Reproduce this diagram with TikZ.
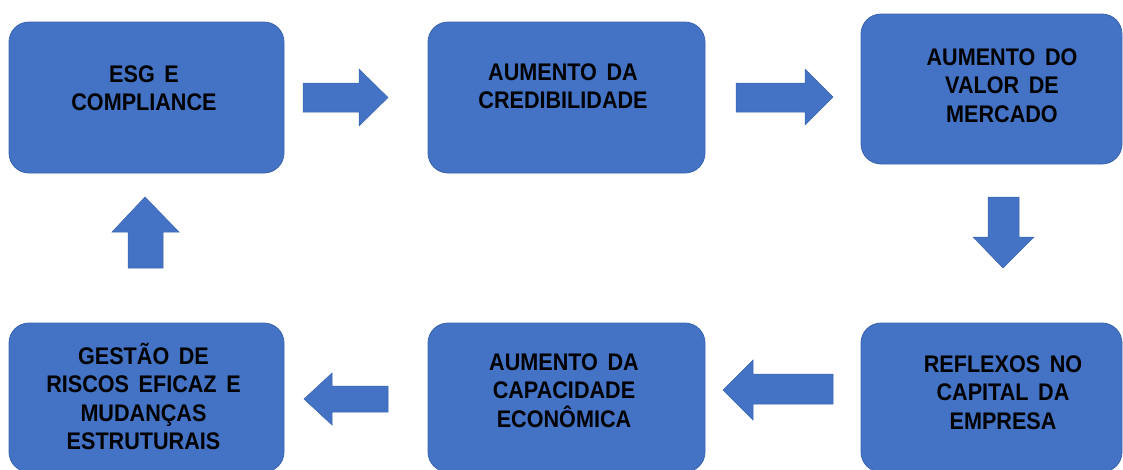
\documentclass[tikz,border=0pt]{standalone}
\usepackage{fontspec}
\newfontfamily\boxfont{Liberation Sans}[FakeStretch=0.9,WordSpace=1.6]
\definecolor{boxblue}{HTML}{4472C4}
\definecolor{boxedge}{HTML}{3B64B0}
\begin{document}
\begin{tikzpicture}[x=1pt,y=-1pt,
  box/.style={draw=boxedge,line width=0.8pt,fill=boxblue,rounded corners=20pt,inner sep=0pt},
  lbl/.style={anchor=north,inner sep=0pt,align=center,text=black,
    font=\boxfont\bfseries\fontsize{24pt}{28.5pt}\selectfont},
  blockarrow/.style={fill=boxblue,draw=boxedge,line width=0.5pt}]
\useasboundingbox (0,0) rectangle (1123,469);
\clip (0,0) rectangle (1123,469);
% boxes
\node[box,minimum width=275pt,minimum height=151pt] (b1) at (146.5,97.5) {};
\node[box,minimum width=277pt,minimum height=151pt] (b2) at (566.5,97.5) {};
\node[box,minimum width=261pt,minimum height=150pt] (b3) at (991.5,89) {};
\node[box,minimum width=261pt,minimum height=149pt] (b4) at (991.5,397.5) {};
\node[box,minimum width=277pt,minimum height=149pt] (b5) at (566.5,397.5) {};
\node[box,minimum width=275pt,minimum height=149pt] (b6) at (146.5,397.5) {};
% labels (anchor at first baseline minus 24pt)
\node[lbl] (t1) at (144,58) {\rule{0pt}{24pt}ESG E\\COMPLIANCE};
\node[lbl] (t2) at (563,56) {\rule{0pt}{24pt}AUMENTO DA\\CREDIBILIDADE};
\node[lbl] (t3) at (1002,41) {\rule{0pt}{24pt}AUMENTO DO\\VALOR DE\\MERCADO};
\node[lbl] (t4) at (1003,348) {\rule{0pt}{24pt}REFLEXOS NO\\CAPITAL DA\\EMPRESA};
\node[lbl] (t5) at (564,346) {\rule{0pt}{24pt}AUMENTO DA\\CAPACIDADE\\ECONÔMICA};
\node[lbl] (t6) at (143.5,340) {\rule{0pt}{24pt}GESTÃO DE\\RISCOS EFICAZ E\\MUDANÇAS\\ESTRUTURAIS};
% block arrows
\path[blockarrow] (303,83) -- (359,83) -- (359,69) -- (388,97.5) -- (359,126) -- (359,112) -- (303,112) -- cycle;
\path[blockarrow] (736,83) -- (805,83) -- (805,69) -- (833,97) -- (805,125) -- (805,112) -- (736,112) -- cycle;
\path[blockarrow] (988,197) -- (1019,197) -- (1019,237) -- (1034,237) -- (1003,268) -- (973,237) -- (988,237) -- cycle;
\path[blockarrow] (833,374) -- (753,374) -- (753,360) -- (723,390) -- (753,420) -- (753,404) -- (833,404) -- cycle;
\path[blockarrow] (388,386) -- (332,386) -- (332,373) -- (304,399) -- (332,425) -- (332,412) -- (388,412) -- cycle;
\path[blockarrow] (128,268) -- (128,232) -- (112,232) -- (145,197) -- (179,232) -- (163,232) -- (163,268) -- cycle;
\end{tikzpicture}
\end{document}
